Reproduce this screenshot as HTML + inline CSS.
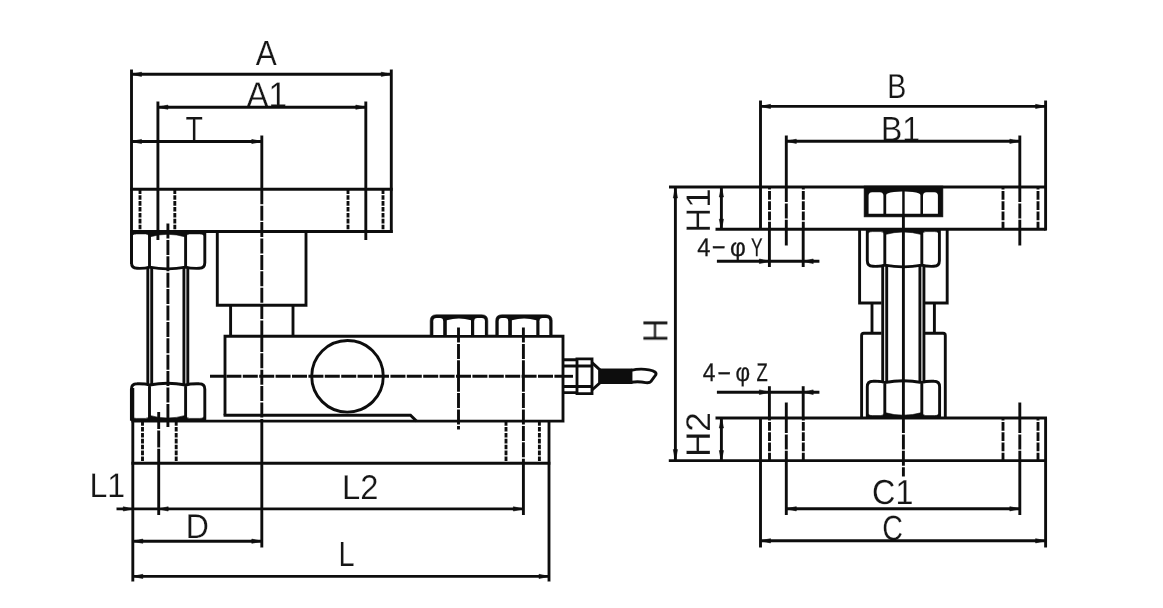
<!DOCTYPE html>
<html lang="en">
<head>
<meta charset="utf-8">
<title>Load cell mounting module dimensions</title>
<style>
html,body{margin:0;padding:0;background:#fff;}
body{width:1163px;height:608px;overflow:hidden;}
svg{display:block;}
.t text.sm{stroke:#161616;stroke-width:0.25px;}
.g line,.g path,.g circle{fill:none;stroke:#111;stroke-width:2.9;stroke-linecap:butt;stroke-linejoin:miter;}
.g .ar,.g .blk{fill:#111;stroke:#111;stroke-width:0.6;}
.g .wh{fill:#fff;stroke:none;}
.t text{font-family:"Liberation Sans","Noto Sans CJK SC",sans-serif;fill:#161616;stroke:#fff;stroke-width:0.2px;paint-order:fill stroke;font-kerning:none;text-rendering:geometricPrecision;}
</style>
</head>
<body>
<svg width="1163" height="608" viewBox="0 0 1163 608">
<defs><filter id="soft" x="0" y="0" width="1163" height="608" filterUnits="userSpaceOnUse"><feGaussianBlur stdDeviation="0.6"/></filter></defs>
<rect x="0" y="0" width="1163" height="608" fill="#ffffff"/>
<g filter="url(#soft)">
<g class="t">
<text transform="matrix(0.9006 0 0 0.9967 255.74 64.80)" font-size="35">A</text>
<text transform="matrix(0.9492 0 0 1.0216 246.39 106.70)" font-size="35">A1</text>
<text transform="matrix(0.8135 0 0 0.9967 185.56 141.30)" font-size="35">T</text>
<text transform="matrix(0.9156 0 0 0.9739 89.47 497.40)" font-size="35">L1</text>
<text transform="matrix(0.9359 0 0 0.9821 341.91 499.20)" font-size="35">L2</text>
<text transform="matrix(0.9165 0 0 0.9759 185.67 538.10)" font-size="35">D</text>
<text transform="matrix(0.8262 0 0 1.0008 338.43 565.90)" font-size="35">L</text>
<text transform="matrix(0.8160 0 0 0.9884 887.26 98.40)" font-size="35">B</text>
<text transform="matrix(0.9116 0 0 1.0008 881.08 140.80)" font-size="35">B1</text>
<text transform="matrix(0.9235 0 0 0.9927 872.06 504.46)" font-size="35">C1</text>
<text transform="matrix(0.8166 0 0 1.0008 882.25 539.66)" font-size="35">C</text>
<text transform="matrix(0 -0.9386 0.9967 0 667.30 342.49)" font-size="35">H</text>
<text transform="matrix(0 -0.9860 0.9780 0 710.00 232.63)" font-size="35">H1</text>
<text transform="matrix(0 -1.0035 0.9800 0 710.40 457.08)" font-size="35">H2</text>
<text class="sm" y="256.0" font-size="25.5"><tspan x="697.25" textLength="13.24" lengthAdjust="spacingAndGlyphs">4</tspan><tspan x="710.96" dy="-1.7" textLength="15.28" lengthAdjust="spacingAndGlyphs">-</tspan><tspan x="729.99" dy="1.7" textLength="15.84" lengthAdjust="spacingAndGlyphs">φ</tspan><tspan x="751.12" textLength="11.56" lengthAdjust="spacingAndGlyphs">Y</tspan></text>
<text class="sm" y="381.4" font-size="25.5"><tspan x="702.78" textLength="12.69" lengthAdjust="spacingAndGlyphs">4</tspan><tspan x="716.80" dy="-1.7" textLength="15.00" lengthAdjust="spacingAndGlyphs">-</tspan><tspan x="735.57" dy="1.7" textLength="14.58" lengthAdjust="spacingAndGlyphs">φ</tspan><tspan x="756.61" textLength="11.26" lengthAdjust="spacingAndGlyphs">Z</tspan></text>
</g>
<g class="g">
<line x1="131.5" y1="69.5" x2="131.5" y2="264"/>
<line x1="132.8" y1="388" x2="132.8" y2="581.5"/>
<line x1="391.3" y1="69.5" x2="391.3" y2="232.9"/>
<line x1="131.5" y1="74.3" x2="391.3" y2="74.3"/>
<polygon class="ar" points="131.5,74.3 141.5,72.2 141.5,76.4"/>
<polygon class="ar" points="391.3,74.3 381.3,72.2 381.3,76.4"/>
<line x1="157.9" y1="101.5" x2="157.9" y2="240"/>
<line x1="365.8" y1="101.5" x2="365.8" y2="240"/>
<line x1="157.9" y1="107.2" x2="365.8" y2="107.2"/>
<polygon class="ar" points="157.9,107.2 167.9,105.1 167.9,109.3"/>
<polygon class="ar" points="365.8,107.2 355.8,105.1 355.8,109.3"/>
<line x1="261.8" y1="135.5" x2="261.8" y2="189.3"/>
<line x1="131.5" y1="141.5" x2="261.8" y2="141.5"/>
<polygon class="ar" points="131.5,141.5 141.5,139.4 141.5,143.6"/>
<polygon class="ar" points="261.8,141.5 251.8,139.4 251.8,143.6"/>
<line x1="130.1" y1="189.3" x2="392.7" y2="189.3"/>
<line x1="130.1" y1="231.5" x2="392.7" y2="231.5"/>
<line x1="140" y1="189.3" x2="140" y2="231.5" stroke-width="2.1" stroke-dasharray="4.6 1.3"/>
<line x1="174.8" y1="189.3" x2="174.8" y2="231.5" stroke-width="2.1" stroke-dasharray="4.6 1.3"/>
<line x1="348" y1="189.3" x2="348" y2="231.5" stroke-width="2.1" stroke-dasharray="4.6 1.3"/>
<line x1="383" y1="189.3" x2="383" y2="231.5" stroke-width="2.1" stroke-dasharray="4.6 1.3"/>
<line x1="261.8" y1="189.3" x2="261.8" y2="421.1" stroke-width="2.5" stroke-dasharray="15 1.4"/>
<line x1="261.8" y1="421.1" x2="261.8" y2="547.5"/>
<line x1="167.9" y1="223.5" x2="167.9" y2="427" stroke-width="2.3" stroke-dasharray="15 1.4"/>
<path d="M131.5 231.5V262.8Q131.5 268.3 137 268.3Q145.25 268.6 149.5 267.1Q167.55 270.7 185.6 267.1Q190.45 268.6 199.3 268.3Q204.8 268.3 204.8 262.8V231.5M149.5 231.5V267.1M185.6 231.5V267.1" stroke-width="3.1"/>
<path class="blk" d="M131.5 231.5V237.9Q131.5 233.9 136.5 233.9L145.5 233.9Q149.5 233.9 149.5 237.9V231.5ZM149.5 231.5V236.9Q167.55 231.7 185.6 236.9V231.5ZM185.6 231.5V237.9Q185.6 233.9 189.6 233.9L199.8 233.9Q204.8 233.9 204.8 237.9V231.5Z"/>
<line x1="147.8" y1="267" x2="147.8" y2="384.5" stroke-width="3.1"/>
<line x1="151.7" y1="267" x2="151.7" y2="384.5" stroke-width="3.1"/>
<line x1="183.9" y1="267" x2="183.9" y2="384.5" stroke-width="3.1"/>
<line x1="187.8" y1="267" x2="187.8" y2="384.5" stroke-width="3.1"/>
<path d="M131.4 420.8V389.3Q131.4 383.8 136.9 383.8Q145.2 383.5 149.5 385Q167.55 381.4 185.6 385Q190.45 383.5 199.3 383.8Q204.8 383.8 204.8 389.3V420.8M149.5 420.8V385M185.6 420.8V385" stroke-width="3.1"/>
<path class="blk" d="M131.4 420.8V414.4Q131.4 418.4 136.4 418.4L145.5 418.4Q149.5 418.4 149.5 414.4V420.8ZM149.5 420.8V415.4Q167.55 420.6 185.6 415.4V420.8ZM185.6 420.8V414.4Q185.6 418.4 189.6 418.4L199.8 418.4Q204.8 418.4 204.8 414.4V420.8Z"/>
<path d="M217.3 231.5V305.3H306V231.5"/>
<path d="M230.6 305.3V336M293 305.3V336"/>
<path d="M225 415.2V336.2H563V421.1H549.0"/>
<path d="M223.6 415.2H410.5L416.5 421.1" stroke-width="2.4"/>
<circle cx="347.5" cy="376.3" r="35.8"/>
<line x1="210" y1="376.3" x2="563" y2="376.3" stroke-width="2.4" stroke-dasharray="15 1.4"/>
<path class="blk" d="M430.2 336.2V320.8Q430.2 314.8 436.2 314.8H481.8Q487.8 314.8 487.8 320.8V336.2Z"/>
<path class="wh" d="M433.3 334.9V321.3Q433.3 318.1 436.5 318.1H440Q443.2 318.1 443.2 321.3V334.9Z"/>
<path class="wh" d="M474.2 334.9V321.3Q474.2 318.1 477.4 318.1H481.7Q484.9 318.1 484.9 321.3V334.9Z"/>
<path class="wh" d="M446.8 334.9V320.3Q458.9 316.7 471 320.3V334.9Z"/>
<path class="blk" d="M495.7 336.2V320.8Q495.7 314.8 501.7 314.8H546.2Q552.2 314.8 552.2 320.8V336.2Z"/>
<path class="wh" d="M498.7 334.9V321.3Q498.7 318.1 501.9 318.1H505Q508.2 318.1 508.2 321.3V334.9Z"/>
<path class="wh" d="M539.5 334.9V321.3Q539.5 318.1 542.7 318.1H546.1Q549.3 318.1 549.3 321.3V334.9Z"/>
<path class="wh" d="M511.9 334.9V320.3Q524.1 316.7 536.3 320.3V334.9Z"/>
<line x1="458.5" y1="327.5" x2="458.5" y2="429.5" stroke-width="2.4" stroke-dasharray="15 1.4"/>
<line x1="523.4" y1="327.5" x2="523.4" y2="463.2" stroke-width="2.4" stroke-dasharray="15 1.4"/>
<line x1="523.4" y1="463.2" x2="523.4" y2="515"/>
<line x1="131.4" y1="421.1" x2="549" y2="421.1"/>
<line x1="131.4" y1="463.2" x2="550.4" y2="463.2"/>
<line x1="549" y1="421.1" x2="549" y2="581.5"/>
<line x1="142.5" y1="421.1" x2="142.5" y2="463.2" stroke-width="2.1" stroke-dasharray="4.6 1.3"/>
<line x1="176.2" y1="421.1" x2="176.2" y2="463.2" stroke-width="2.1" stroke-dasharray="4.6 1.3"/>
<line x1="506" y1="421.1" x2="506" y2="463.2" stroke-width="2.1" stroke-dasharray="4.6 1.3"/>
<line x1="539.4" y1="421.1" x2="539.4" y2="463.2" stroke-width="2.1" stroke-dasharray="4.6 1.3"/>
<line x1="158.7" y1="412" x2="158.7" y2="463.2" stroke-width="2.5" stroke-dasharray="17 1.4"/>
<line x1="158.7" y1="463.2" x2="158.7" y2="515"/>
<line x1="116.5" y1="508.9" x2="523.4" y2="508.9"/>
<polygon class="ar" points="132.8,508.9 123.3,506.8 123.3,511"/>
<polygon class="ar" points="158.7,508.9 168.2,506.8 168.2,511"/>
<polygon class="ar" points="523.4,508.9 513.4,506.8 513.4,511"/>
<line x1="132.8" y1="541.2" x2="261.8" y2="541.2"/>
<polygon class="ar" points="132.8,541.2 142.8,539.1 142.8,543.3"/>
<polygon class="ar" points="261.8,541.2 251.8,539.1 251.8,543.3"/>
<line x1="132.8" y1="576.4" x2="549" y2="576.4"/>
<polygon class="ar" points="132.8,576.4 142.8,574.3 142.8,578.5"/>
<polygon class="ar" points="549,576.4 539,574.3 539,578.5"/>
<line x1="563" y1="376.3" x2="573" y2="376.3" stroke-width="2.4"/>
<path d="M563 359.8H577V392.6H563M577 358.9H592V393.6H577Z M563 366H592M563 386.5H592" stroke-width="3.2"/>
<path d="M592 362.6L599.7 369.6V383L592 390" stroke-width="2.8"/>
<path d="M600 369.9H631V382.6H600Z" stroke-width="1" style="fill:#111"/>
<path d="M631 370.4Q640 368.2 649 369.9Q657.4 371.6 655.8 374.8L651 381.4Q649.6 383.2 645.6 382.6Q638 381 631 382.3" stroke-width="2.8"/>
<line x1="760.5" y1="100.5" x2="760.5" y2="229.2"/>
<line x1="1045.6" y1="100.5" x2="1045.6" y2="230.6"/>
<line x1="760.5" y1="106.4" x2="1045.6" y2="106.4"/>
<polygon class="ar" points="760.5,106.4 770.5,104.3 770.5,108.5"/>
<polygon class="ar" points="1045.6,106.4 1035.6,104.3 1035.6,108.5"/>
<line x1="786.3" y1="135.5" x2="786.3" y2="187"/>
<line x1="1019.8" y1="135.5" x2="1019.8" y2="187"/>
<line x1="786.3" y1="141.3" x2="1019.8" y2="141.3"/>
<polygon class="ar" points="786.3,141.3 796.3,139.2 796.3,143.4"/>
<polygon class="ar" points="1019.8,141.3 1009.8,139.2 1009.8,143.4"/>
<line x1="669" y1="187" x2="1047" y2="187"/>
<line x1="715.5" y1="229.2" x2="1045.6" y2="229.2"/>
<line x1="769.5" y1="187" x2="769.5" y2="229.2" stroke-width="2.4" stroke-dasharray="8.8 1.5" stroke-dashoffset="6.4"/>
<line x1="803.3" y1="187" x2="803.3" y2="229.2" stroke-width="2.4" stroke-dasharray="8.8 1.5" stroke-dashoffset="6.4"/>
<line x1="1003" y1="187" x2="1003" y2="229.2" stroke-width="2.4" stroke-dasharray="8.8 1.5" stroke-dashoffset="6.4"/>
<line x1="1038" y1="187" x2="1038" y2="229.2" stroke-width="2.4" stroke-dasharray="8.8 1.5" stroke-dashoffset="6.4"/>
<line x1="786.3" y1="187" x2="786.3" y2="229.2" stroke-width="2.4" stroke-dasharray="15 1.4"/>
<line x1="786.3" y1="229.2" x2="786.3" y2="245.5" stroke-width="2.5"/>
<line x1="1019.8" y1="187" x2="1019.8" y2="229.2" stroke-width="2.4" stroke-dasharray="15 1.4"/>
<line x1="1019.8" y1="229.2" x2="1019.8" y2="245.5" stroke-width="2.5"/>
<line x1="675.4" y1="187" x2="675.4" y2="460.6"/>
<polygon class="ar" points="675.4,187 673.3,198 677.5,198"/>
<polygon class="ar" points="675.4,460.6 673.3,449.6 677.5,449.6"/>
<line x1="721.4" y1="187" x2="721.4" y2="229.2"/>
<polygon class="ar" points="721.4,187 719.3,197 723.5,197"/>
<polygon class="ar" points="721.4,229.2 719.3,219.2 723.5,219.2"/>
<line x1="721.4" y1="418" x2="721.4" y2="460.6"/>
<polygon class="ar" points="721.4,418 719.3,428 723.5,428"/>
<polygon class="ar" points="721.4,460.6 719.3,450.6 723.5,450.6"/>
<line x1="716.9" y1="261.3" x2="819.4" y2="261.3" stroke-width="3"/>
<polygon class="ar" points="769.4,261.3 759.4,259 759.4,263.6"/>
<polygon class="ar" points="803.2,261.3 813.2,259 813.2,263.6"/>
<line x1="769.4" y1="229.2" x2="769.4" y2="267"/>
<line x1="803.2" y1="229.2" x2="803.2" y2="267"/>
<line x1="716.9" y1="392.2" x2="819.4" y2="392.2" stroke-width="3"/>
<polygon class="ar" points="769.4,392.2 759.4,389.9 759.4,394.5"/>
<polygon class="ar" points="803.2,392.2 813.2,389.9 813.2,394.5"/>
<line x1="769.4" y1="386.2" x2="769.4" y2="418"/>
<line x1="803.2" y1="386.2" x2="803.2" y2="418"/>
<line x1="715.5" y1="418" x2="1047" y2="418"/>
<line x1="668.8" y1="460.6" x2="1047" y2="460.6"/>
<line x1="760.5" y1="418" x2="760.5" y2="547.5"/>
<line x1="1045.6" y1="418" x2="1045.6" y2="547.5"/>
<line x1="769.5" y1="418" x2="769.5" y2="460.6" stroke-width="2.4" stroke-dasharray="8.8 1.5" stroke-dashoffset="6.4"/>
<line x1="803.3" y1="418" x2="803.3" y2="460.6" stroke-width="2.4" stroke-dasharray="8.8 1.5" stroke-dashoffset="6.4"/>
<line x1="1003" y1="418" x2="1003" y2="460.6" stroke-width="2.4" stroke-dasharray="8.8 1.5" stroke-dashoffset="6.4"/>
<line x1="1038" y1="418" x2="1038" y2="460.6" stroke-width="2.4" stroke-dasharray="8.8 1.5" stroke-dashoffset="6.4"/>
<line x1="786.3" y1="402.5" x2="786.3" y2="418" stroke-width="2.5"/>
<line x1="786.3" y1="418" x2="786.3" y2="460.6" stroke-width="2.4" stroke-dasharray="15 1.4"/>
<line x1="786.3" y1="460.6" x2="786.3" y2="515"/>
<line x1="1019.8" y1="402.5" x2="1019.8" y2="418" stroke-width="2.5"/>
<line x1="1019.8" y1="418" x2="1019.8" y2="460.6" stroke-width="2.4" stroke-dasharray="15 1.4"/>
<line x1="1019.8" y1="460.6" x2="1019.8" y2="515"/>
<line x1="786.3" y1="508.8" x2="1019.8" y2="508.8"/>
<polygon class="ar" points="786.3,508.8 796.3,506.7 796.3,510.9"/>
<polygon class="ar" points="1019.8,508.8 1009.8,506.7 1009.8,510.9"/>
<line x1="760.5" y1="540.8" x2="1045.6" y2="540.8"/>
<polygon class="ar" points="760.5,540.8 770.5,538.7 770.5,542.9"/>
<polygon class="ar" points="1045.6,540.8 1035.6,538.7 1035.6,542.9"/>
<rect class="blk" x="864.1" y="186" width="78.8" height="30.9"/>
<path class="wh" d="M868.6 213.8V195.8Q868.6 192.3 872.1 192.3L879.9 192.3Q883.4 192.3 883.4 195.8V213.8Z"/>
<path class="wh" d="M886.2 213.8V195Q886.2 192.6 894 191.9L902.2 191.5V213.8Z"/>
<path class="wh" d="M920.4 213.8V195Q920.4 192.6 912.6 191.9L904.7 191.5V213.8Z"/>
<path class="wh" d="M923 213.8V195.8Q923 192.3 926.5 192.3L934.4 192.3Q937.9 192.3 937.9 195.8V213.8Z"/>
<line x1="903.4" y1="215" x2="903.4" y2="418" stroke-width="2.6"/>
<line x1="903.4" y1="418" x2="903.4" y2="476.5" stroke-width="2.4" stroke-dasharray="15 1.4"/>
<path d="M867.3 229.2V260.8Q867.3 266.3 872.8 266.3Q880.8 266.6 884.8 265.1Q903.3 268.7 921.8 265.1Q925.85 266.6 933.9 266.3Q939.4 266.3 939.4 260.8V229.2M884.8 229.2V265.1M921.8 229.2V265.1" stroke-width="3.1"/>
<path class="blk" d="M867.3 229.2V235.6Q867.3 231.6 872.3 231.6L880.8 231.6Q884.8 231.6 884.8 235.6V229.2ZM884.8 229.2V234.6Q903.3 229.4 921.8 234.6V229.2ZM921.8 229.2V235.6Q921.8 231.6 925.8 231.6L934.4 231.6Q939.4 231.6 939.4 235.6V229.2Z"/>
<path d="M859.6 229.2V303H881.5M947.2 229.2V303H925" stroke-width="2.6"/>
<line x1="882.7" y1="265.5" x2="882.7" y2="382" stroke-width="3.1"/>
<line x1="886.7" y1="265.5" x2="886.7" y2="382" stroke-width="3.1"/>
<line x1="919.9" y1="265.5" x2="919.9" y2="382" stroke-width="3.1"/>
<line x1="923.9" y1="265.5" x2="923.9" y2="382" stroke-width="3.1"/>
<path d="M872 303V333M934.4 303V333" stroke-width="2.6"/>
<path d="M861.6 418.0V335.4Q861.6 333.2 863.8 333.2H881.5M945.3 418.0V335.4Q945.3 333.2 943.1 333.2H925" stroke-width="2.6"/>
<path d="M867.3 418V386.8Q867.3 381.3 872.8 381.3Q880.8 381 884.8 382.5Q903.3 378.9 921.8 382.5Q925.95 381 934.1 381.3Q939.6 381.3 939.6 386.8V418M884.8 418V382.5M921.8 418V382.5" stroke-width="3.1"/>
<path class="blk" d="M867.3 418V411.6Q867.3 415.6 872.3 415.6L880.8 415.6Q884.8 415.6 884.8 411.6V418ZM884.8 418V412.6Q903.3 417.8 921.8 412.6V418ZM921.8 418V411.6Q921.8 415.6 925.8 415.6L934.6 415.6Q939.6 415.6 939.6 411.6V418Z"/>
</g>
</g>
</svg>
</body>
</html>
